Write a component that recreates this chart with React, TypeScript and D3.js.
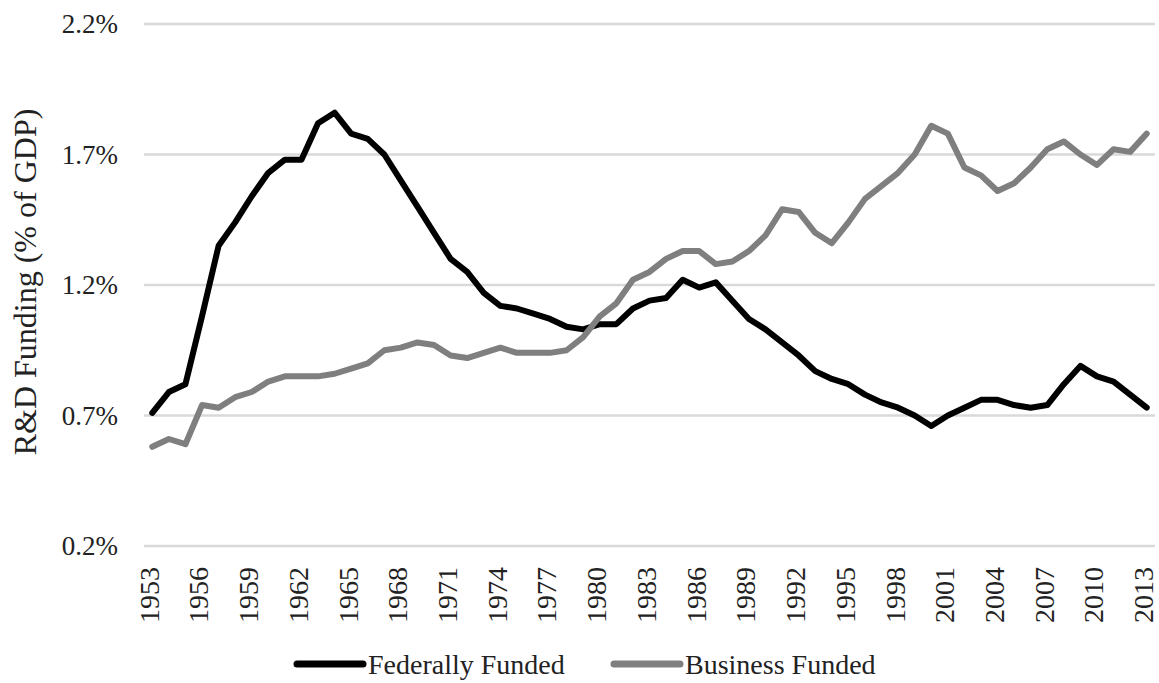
import React, { useEffect, useRef } from "react";
import * as d3 from "d3";

const years = d3.range(1953, 2014);

const federalFunded = [
  0.71, 0.79, 0.82, 1.08, 1.35, 1.44, 1.54, 1.63, 1.68, 1.68,
  1.82, 1.86, 1.78, 1.76, 1.7, 1.6, 1.5, 1.4, 1.3, 1.25,
  1.17, 1.12, 1.11, 1.09, 1.07, 1.04, 1.03, 1.05, 1.05, 1.11,
  1.14, 1.15, 1.22, 1.19, 1.21, 1.14, 1.07, 1.03, 0.98, 0.93,
  0.87, 0.84, 0.82, 0.78, 0.75, 0.73, 0.7, 0.66, 0.7, 0.73,
  0.76, 0.76, 0.74, 0.73, 0.74, 0.82, 0.89, 0.85, 0.83, 0.78,
  0.73
];

const businessFunded = [
  0.58, 0.61, 0.59, 0.74, 0.73, 0.77, 0.79, 0.83, 0.85, 0.85,
  0.85, 0.86, 0.88, 0.9, 0.95, 0.96, 0.98, 0.97, 0.93, 0.92,
  0.94, 0.96, 0.94, 0.94, 0.94, 0.95, 1.0, 1.08, 1.13, 1.22,
  1.25, 1.3, 1.33, 1.33, 1.28, 1.29, 1.33, 1.39, 1.49, 1.48,
  1.4, 1.36, 1.44, 1.53, 1.58, 1.63, 1.7, 1.81, 1.78, 1.65,
  1.62, 1.56, 1.59, 1.65, 1.72, 1.75, 1.7, 1.66, 1.72, 1.71,
  1.78
];

const yTicks = [0.2, 0.7, 1.2, 1.7, 2.2];
const xTickYears = d3.range(1953, 2014, 3);

const seriesNames = ["Federally Funded", "Business Funded"];
const seriesColors = ["#000000", "#7f7f7f"];

const App = () => {
  const ref = useRef<SVGSVGElement>(null);

  useEffect(() => {
    const width = 1159;
    const height = 683;
    const plot = { left: 144, right: 1155, top: 24, bottom: 546 };
    const font = "'Liberation Serif', 'Times New Roman', serif";

    const svg = d3.select(ref.current);
    svg.selectAll("*").remove();
    svg.attr("width", width).attr("height", height);

    const x = d3
      .scalePoint<number>()
      .domain(years)
      .range([plot.left, plot.right])
      .padding(0.5);

    const y = d3
      .scaleLinear()
      .domain([0.2, 2.2])
      .range([plot.bottom, plot.top]);

    // gridlines
    svg
      .append("g")
      .selectAll("line")
      .data(yTicks)
      .enter()
      .append("line")
      .attr("x1", plot.left)
      .attr("x2", plot.right)
      .attr("y1", d => y(d))
      .attr("y2", d => y(d))
      .attr("stroke", "#d9d9d9")
      .attr("stroke-width", 2.5);

    // y tick labels
    svg
      .append("g")
      .selectAll("text")
      .data(yTicks)
      .enter()
      .append("text")
      .attr("x", 118)
      .attr("y", d => y(d))
      .attr("dy", "0.35em")
      .attr("text-anchor", "end")
      .attr("font-family", font)
      .attr("font-size", 27)
      .attr("fill", "#222")
      .text(d => d.toFixed(1) + "%");

    // x tick labels, rotated
    svg
      .append("g")
      .selectAll("text")
      .data(xTickYears)
      .enter()
      .append("text")
      .attr("transform", d => `translate(${x(d)! - 2}, ${plot.bottom + 21}) rotate(-90)`)
      .attr("dy", "0.3em")
      .attr("text-anchor", "end")
      .attr("font-family", font)
      .attr("font-size", 28)
      .attr("fill", "#222")
      .text(d => d);

    // axis title
    svg
      .append("text")
      .attr("transform", "translate(36, 282) rotate(-90)")
      .attr("text-anchor", "middle")
      .attr("font-family", font)
      .attr("font-size", 32)
      .attr("fill", "#222")
      .text("R&D Funding (% of GDP)");

    const line = d3
      .line<number>()
      .x((d, i) => x(years[i])!)
      .y(d => y(d));

    [federalFunded, businessFunded].forEach((values, i) => {
      svg
        .append("path")
        .datum(values)
        .attr("d", line)
        .attr("fill", "none")
        .attr("stroke", seriesColors[i])
        .attr("stroke-width", 6)
        .attr("stroke-linejoin", "round")
        .attr("stroke-linecap", "round");
    });

    // legend
    const legendX = [295, 612];
    const legendY = 664;
    seriesNames.forEach((name, i) => {
      const g = svg.append("g").attr("transform", `translate(${legendX[i]}, ${legendY})`);
      g.append("line")
        .attr("x1", 2)
        .attr("x2", 68)
        .attr("y1", 0)
        .attr("y2", 0)
        .attr("stroke", seriesColors[i])
        .attr("stroke-width", 7)
        .attr("stroke-linecap", "round");
      g.append("text")
        .attr("x", 73)
        .attr("y", 0)
        .attr("dy", "0.35em")
        .attr("font-family", font)
        .attr("font-size", 28)
        .attr("fill", "#222")
        .text(name);
    });
  }, []);

  return (
    <svg ref={ref} style={{ position: "absolute", left: 0, top: 0 }} />
  );
};

export default App;
